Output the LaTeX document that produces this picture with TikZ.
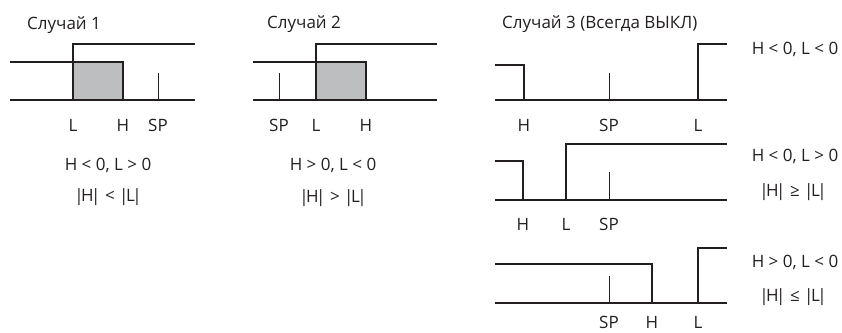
\documentclass[tikz,border=0pt]{standalone}
\usepackage{fontspec}
\setmainfont{Open Sans}
\definecolor{ink}{HTML}{231F20}
\definecolor{shade}{HTML}{BCBEC0}
\newcommand{\absval}[1]{|\kern-2.5pt#1\kern-2.5pt|}

\begin{document}
\begin{tikzpicture}[
    x=1pt, y=-1pt,
    sig/.style={line width=2.6pt, draw=ink, line join=miter},
    tickline/.style={line width=0.9pt, draw=ink},
    band/.style={fill=shade},
    lbl/.style={font=\fontsize{17}{20}\selectfont, text=ink,
                inner sep=0pt, anchor=base},
    title/.style={lbl, anchor=base west}
]
\useasboundingbox (0,0) rectangle (842,332);

% Case 1
\node[title] (t1) at (27,29) {Случай 1};
\fill[band] (73,62) rectangle (123,100);
\draw[sig] (10,100) -- (195,100);
\draw[sig] (10,62) -- (123,62) -- (123,100);
\draw[sig] (73,100) -- (73,44) -- (195,44);
\draw[tickline] (158,73) -- (158,100);
\foreach \n/\x in {L/73, H/123, SP/158}
  \node[lbl] (c1\n) at (\x,131) {\n};
\node[lbl] (c1f) at (108,170) {H < 0, L > 0};
\node[lbl] (c1a) at (108,201) {\absval{H} < \absval{L}};

% Case 2
\node[title] (t2) at (267,28) {Случай 2};
\fill[band] (316,62) rectangle (366,100);
\draw[sig] (253,100) -- (437,100);
\draw[sig] (253,62) -- (366,62) -- (366,100);
\draw[sig] (316,100) -- (316,44) -- (437,44);
\draw[tickline] (279,73) -- (279,100);
\foreach \n/\x in {SP/279, L/316, H/366}
  \node[lbl] (c2\n) at (\x,131) {\n};
\node[lbl] (c2f) at (333,170) {H > 0, L < 0};
\node[lbl] (c2a) at (333,202) {\absval{H} > \absval{L}};

% Case 3 (always off)
\node[title] (t3) at (502,28) {Случай 3 (Всегда ВЫКЛ)};

\draw[sig] (495,100) -- (727,100);
\draw[sig] (495,65) -- (524,65) -- (524,100);
\draw[sig] (698,100) -- (698,44) -- (727,44);
\draw[tickline] (609,73) -- (609,100);
\foreach \n/\x in {H/524, SP/609, L/698}
  \node[lbl] (c3a\n) at (\x,131) {\n};
\node[lbl] (c3af) at (795,54) {H < 0, L < 0};

\draw[sig] (495,200) -- (727,200);
\draw[sig] (495,161) -- (523,161) -- (523,200);
\draw[sig] (566,200) -- (566,144) -- (727,144);
\draw[tickline] (609,172) -- (609,200);
\foreach \n/\x in {H/523, L/566, SP/609}
  \node[lbl] (c3b\n) at (\x,230) {\n};
\node[lbl] (c3bf) at (795,161) {H < 0, L > 0};
\node[lbl] (c3ba) at (793,196) {\absval{H} ≥ \absval{L}};

\draw[sig] (495,303) -- (727,303);
\draw[sig] (495,264) -- (652,264) -- (652,303);
\draw[sig] (698,303) -- (698,248) -- (727,248);
\draw[tickline] (609,276) -- (609,303);
\foreach \n/\x in {SP/609, H/652, L/698}
  \node[lbl] (c3c\n) at (\x,328) {\n};
\node[lbl] (c3cf) at (795,267) {H > 0, L < 0};
\node[lbl] (c3ca) at (793,301) {\absval{H} ≤ \absval{L}};
\end{tikzpicture}
\end{document}
